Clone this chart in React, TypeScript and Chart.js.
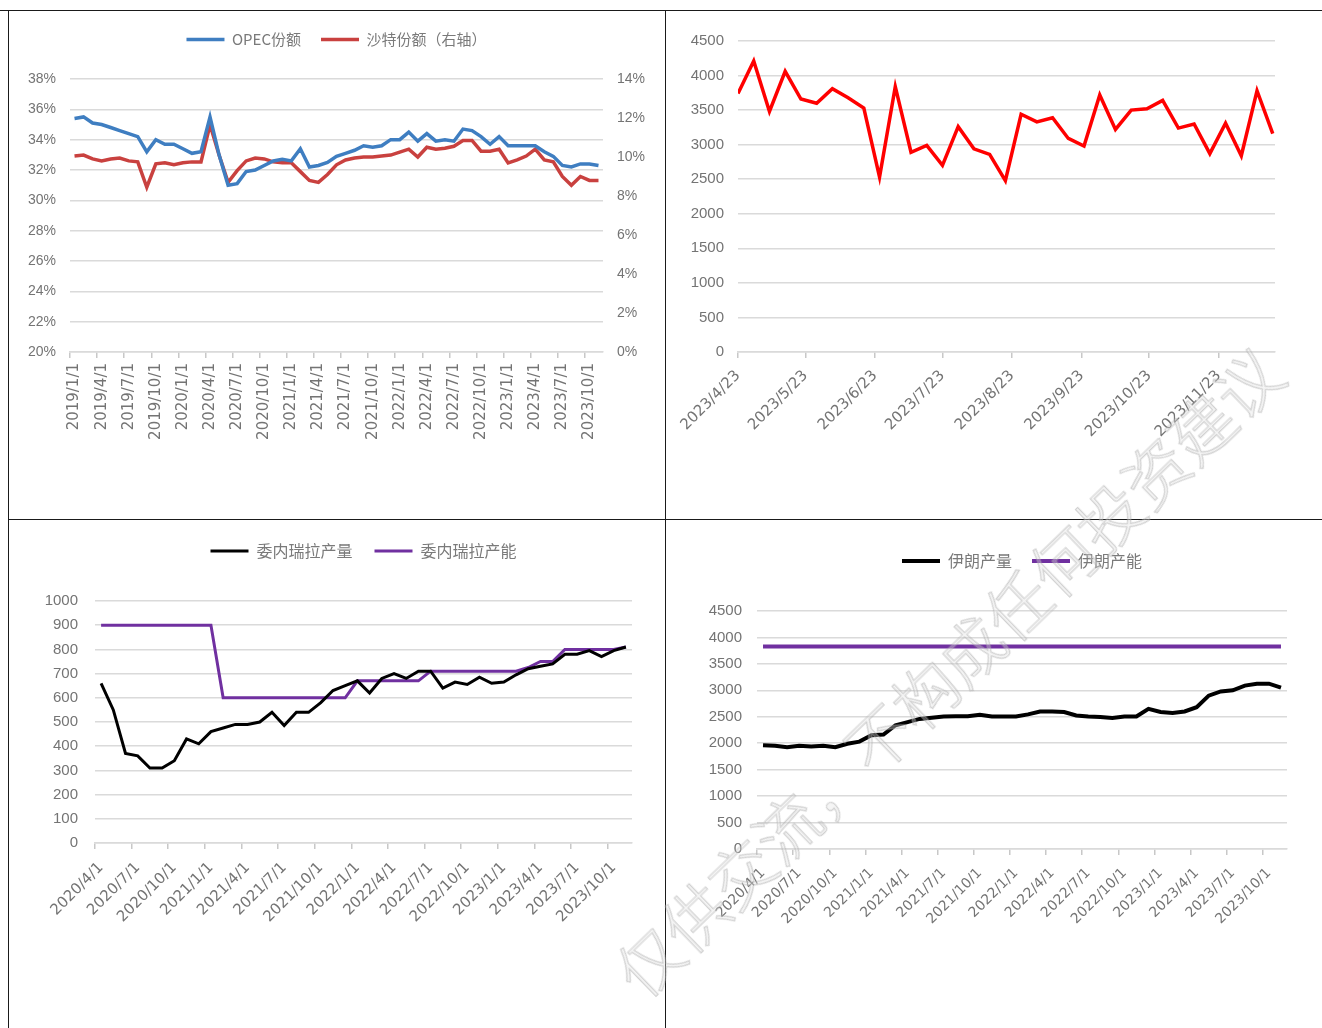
import React, { useEffect, useRef } from 'react';
import { Chart, registerables } from 'chart.js';

Chart.register(...registerables);

// ---------------- Panel 1: OPEC share vs Saudi share ----------------
const shareMonths = [
  '2019/1/1', '2019/2/1', '2019/3/1', '2019/4/1', '2019/5/1', '2019/6/1', '2019/7/1', '2019/8/1', '2019/9/1', '2019/10/1', '2019/11/1', '2019/12/1',
  '2020/1/1', '2020/2/1', '2020/3/1', '2020/4/1', '2020/5/1', '2020/6/1', '2020/7/1', '2020/8/1', '2020/9/1', '2020/10/1', '2020/11/1', '2020/12/1',
  '2021/1/1', '2021/2/1', '2021/3/1', '2021/4/1', '2021/5/1', '2021/6/1', '2021/7/1', '2021/8/1', '2021/9/1', '2021/10/1', '2021/11/1', '2021/12/1',
  '2022/1/1', '2022/2/1', '2022/3/1', '2022/4/1', '2022/5/1', '2022/6/1', '2022/7/1', '2022/8/1', '2022/9/1', '2022/10/1', '2022/11/1', '2022/12/1',
  '2023/1/1', '2023/2/1', '2023/3/1', '2023/4/1', '2023/5/1', '2023/6/1', '2023/7/1', '2023/8/1', '2023/9/1', '2023/10/1', '2023/11/1',
];
const opecShare = [
  35.4, 35.5, 35.1, 35.0, 34.8, 34.6, 34.4, 34.2, 33.2, 34.0, 33.7, 33.7,
  33.4, 33.1, 33.2, 35.5, 33.0, 31.0, 31.1, 31.9, 32.0, 32.3, 32.6, 32.7,
  32.6, 33.4, 32.2, 32.3, 32.5, 32.9, 33.1, 33.3, 33.6, 33.5, 33.6, 34.0,
  34.0, 34.5, 33.9, 34.4, 33.9, 34.0, 33.9, 34.7, 34.6, 34.2, 33.7, 34.2,
  33.6, 33.6, 33.6, 33.6, 33.2, 32.9, 32.3, 32.2, 32.4, 32.4, 32.3,
];
const saudiShare = [
  10.05, 10.1, 9.9, 9.8, 9.9, 9.95, 9.8, 9.75, 8.45, 9.65, 9.7, 9.6,
  9.7, 9.75, 9.75, 11.65, 10.1, 8.7, 9.3, 9.8, 9.95, 9.9, 9.75, 9.7,
  9.7, 9.25, 8.8, 8.7, 9.1, 9.6, 9.85, 9.95, 10.0, 10.0, 10.05, 10.1,
  10.25, 10.4, 10.0, 10.5, 10.4, 10.45, 10.55, 10.85, 10.85, 10.3, 10.3, 10.4,
  9.7, 9.85, 10.05, 10.4, 9.85, 9.75, 9.0, 8.55, 9.0, 8.8, 8.8,
];
const leftPctTicks = { min: 20, max: 38, step: 2 };
const rightPctTicks = { min: 0, max: 14, step: 2 };

// ---------------- Panel 2: weekly series ----------------
const weeklyDates = [
  '2023/4/23', '2023/4/30', '2023/5/7', '2023/5/14', '2023/5/21', '2023/5/28', '2023/6/4', '2023/6/11', '2023/6/18',
  '2023/6/25', '2023/7/2', '2023/7/9', '2023/7/16', '2023/7/23', '2023/7/30', '2023/8/6', '2023/8/13', '2023/8/20',
  '2023/8/27', '2023/9/3', '2023/9/10', '2023/9/17', '2023/9/24', '2023/10/1', '2023/10/8', '2023/10/15', '2023/10/22',
  '2023/10/29', '2023/11/5', '2023/11/12', '2023/11/19', '2023/11/26', '2023/12/3', '2023/12/10', '2023/12/17',
];
const weeklyValues = [
  3740, 4210, 3480, 4060, 3660, 3600, 3810, 3680, 3530,
  2530, 3840, 2890, 2990, 2700, 3260, 2940, 2860, 2480,
  3440, 3330, 3390, 3090, 2980, 3720, 3220, 3500, 3520,
  3640, 3240, 3300, 2870, 3310, 2840, 3780, 3160,
];
const weeklyTickLabels = ['2023/4/23', '2023/5/23', '2023/6/23', '2023/7/23', '2023/8/23', '2023/9/23', '2023/10/23', '2023/11/23'];
const weeklyAxisEnd = '2023/12/18';

// ---------------- Panels 3 & 4: production vs capacity ----------------
const productionMonths = [
  '2020/4/1', '2020/5/1', '2020/6/1', '2020/7/1', '2020/8/1', '2020/9/1', '2020/10/1', '2020/11/1', '2020/12/1',
  '2021/1/1', '2021/2/1', '2021/3/1', '2021/4/1', '2021/5/1', '2021/6/1', '2021/7/1', '2021/8/1', '2021/9/1', '2021/10/1', '2021/11/1', '2021/12/1',
  '2022/1/1', '2022/2/1', '2022/3/1', '2022/4/1', '2022/5/1', '2022/6/1', '2022/7/1', '2022/8/1', '2022/9/1', '2022/10/1', '2022/11/1', '2022/12/1',
  '2023/1/1', '2023/2/1', '2023/3/1', '2023/4/1', '2023/5/1', '2023/6/1', '2023/7/1', '2023/8/1', '2023/9/1', '2023/10/1', '2023/11/1',
];
const venezuelaOutput = [
  660, 550, 370, 360, 310, 310, 340, 430, 410,
  460, 475, 490, 490, 500, 540, 485, 540, 540, 580, 630, 650,
  670, 620, 680, 700, 680, 710, 710, 640, 665, 655, 685, 660,
  665, 695, 720, 730, 740, 780, 780, 795, 770, 795, 810,
];
const venezuelaCapacity = [
  900, 900, 900, 900, 900, 900, 900, 900, 900,
  900, 600, 600, 600, 600, 600, 600, 600, 600, 600, 600, 600,
  670, 670, 670, 670, 670, 670, 710, 710, 710, 710, 710, 710,
  710, 710, 725, 750, 750, 800, 800, 800, 800, 800, 810,
];
const iranOutput = [
  1960, 1950, 1925, 1950, 1940, 1950, 1925, 1990, 2030,
  2150, 2165, 2340, 2400, 2460, 2480, 2505, 2510, 2510, 2540, 2505, 2505,
  2505, 2545, 2600, 2600, 2590, 2525, 2505, 2495, 2475, 2505, 2505, 2650,
  2590, 2570, 2600, 2680, 2900, 2980, 3000, 3090, 3125, 3125, 3050,
];
const iranCapacity = [
  3830, 3830, 3830, 3830, 3830, 3830, 3830, 3830, 3830,
  3830, 3830, 3830, 3830, 3830, 3830, 3830, 3830, 3830, 3830, 3830, 3830,
  3830, 3830, 3830, 3830, 3830, 3830, 3830, 3830, 3830, 3830, 3830, 3830,
  3830, 3830, 3830, 3830, 3830, 3830, 3830, 3830, 3830, 3830, 3830,
];

const watermarkText = '仅供交流，不构成任何投资建议';

// ---------------- helpers ----------------
const GRID = '#dadada';
const TICK_TEXT = '#747474';
const LEGEND_TEXT = '#7a7a7a';
const numFont = (size: number) => ({ family: "'Liberation Sans', Arial, sans-serif", size });
const dateFont = (size: number) => ({ family: "'DejaVu Sans', sans-serif", size });
const cjkFont = (size: number) => ({ family: "'Noto Sans CJK SC', sans-serif", size });

const fixedWidth = (w: number) => (scale: any) => { scale.width = w; };
const fixedHeight = (h: number) => (scale: any) => { scale.height = h; };

const dayOf = (s: string) => {
  const [y, m, d] = s.split('/').map(Number);
  return Date.UTC(y, m - 1, d) / 86400000;
};
const weeklyOrigin = dayOf(weeklyDates[0]);

const legendGap = (extra: number) => ({
  id: 'legendGap',
  beforeLayout(chart: any) {
    const lg = chart.legend;
    if (lg && !lg._gapPatched) {
      const fit = lg.fit;
      lg.fit = function () {
        fit.call(this);
        this.height += extra;
      };
      lg._gapPatched = true;
    }
  },
});

const lineLegend = (size: number, pad: number) => ({
  position: 'top' as const,
  fullSize: false,
  labels: {
    usePointStyle: true,
    pointStyle: 'line',
    pointStyleWidth: 38,
    font: cjkFont(size),
    color: LEGEND_TEXT,
    padding: pad,
  },
});

const every3Grid = (ctx: any) => (ctx.index % 3 === 0 ? '#c8c8c8' : 'rgba(0,0,0,0)');

const lineDs = (label: string, data: any[], color: string, width: number, axis = 'y') => ({
  label,
  data,
  yAxisID: axis,
  borderColor: color,
  backgroundColor: color,
  borderWidth: width,
  pointRadius: 0,
  pointHoverRadius: 0,
  tension: 0,
  fill: false,
});

const valueAxis = (min: number, max: number, step: number, width: number, pad: number, fmt: (v: number) => string, size = 15) => ({
  position: 'left' as const,
  min,
  max,
  ticks: { stepSize: step, padding: pad, color: TICK_TEXT, font: numFont(size), callback: (v: any) => fmt(v) },
  grid: { color: GRID, lineWidth: 1.5, drawTicks: false },
  border: { display: false },
  afterFit: fixedWidth(width),
});

const categoryAxis = (labels: string[], rotation: number, height: number, fontSize: number, pad: number) => ({
  type: 'category' as const,
  offset: true,
  grid: { offset: true, drawOnChartArea: false, drawTicks: true, tickLength: 6, lineWidth: 1.5, color: every3Grid },
  border: { display: true, color: GRID, width: 1.5 },
  ticks: {
    autoSkip: false,
    minRotation: rotation,
    maxRotation: rotation,
    padding: pad,
    color: TICK_TEXT,
    font: dateFont(fontSize),
    callback: (_v: any, i: number) => (i % 3 === 0 ? labels[i] : ''),
  },
  afterFit: fixedHeight(height),
});

// ---------------- configs ----------------
const shareConfig = () => ({
  type: 'line' as const,
  data: {
    labels: shareMonths,
    datasets: [
      lineDs('OPEC份额', opecShare, '#3f7ec1', 3.5, 'y'),
      lineDs('沙特份额（右轴）', saudiShare, '#c9413f', 3.5, 'y1'),
    ],
  },
  options: {
    responsive: false,
    animation: false as const,
    layout: { padding: { top: 1, left: 0, right: 0, bottom: 0 } },
    plugins: { legend: lineLegend(15, 20), tooltip: { enabled: false } },
    scales: {
      x: categoryAxis(shareMonths, 90, 167, 15, 5),
      y: valueAxis(leftPctTicks.min, leftPctTicks.max, leftPctTicks.step, 61, 14, (v) => v + '%', 14),
      y1: {
        position: 'right' as const,
        min: rightPctTicks.min,
        max: rightPctTicks.max,
        ticks: { stepSize: rightPctTicks.step, padding: 14, color: TICK_TEXT, font: numFont(14), callback: (v: any) => v + '%' },
        grid: { drawOnChartArea: false, drawTicks: false },
        border: { display: false },
        afterFit: fixedWidth(62),
      },
    },
  },
  plugins: [legendGap(22)],
});

const weeklyConfig = () => {
  const tickDays = weeklyTickLabels.map((d) => dayOf(d) - weeklyOrigin);
  return {
    type: 'line' as const,
    data: {
      datasets: [
        lineDs('weekly', weeklyDates.map((d, i) => ({ x: dayOf(d) - weeklyOrigin, y: weeklyValues[i] })), '#ff0000', 3.5),
      ],
    },
    options: {
      responsive: false,
      animation: false as const,
      layout: { padding: { top: 30, left: 0, right: 47, bottom: 0 } },
      plugins: { legend: { display: false }, tooltip: { enabled: false } },
      scales: {
        x: {
          type: 'linear' as const,
          min: 0,
          max: dayOf(weeklyAxisEnd) - weeklyOrigin,
          afterBuildTicks: (s: any) => { s.ticks = tickDays.map((v) => ({ value: v })); },
          grid: { drawOnChartArea: false, drawTicks: true, tickLength: 6, lineWidth: 1.5, color: '#c8c8c8' },
          border: { display: true, color: GRID, width: 1.5 },
          ticks: {
            autoSkip: false,
            minRotation: 45,
            maxRotation: 45,
            padding: 9,
            color: TICK_TEXT,
            font: dateFont(15),
            callback: (_v: any, i: number) => weeklyTickLabels[i],
          },
          afterFit: fixedHeight(167),
        },
        y: valueAxis(0, 4500, 500, 72, 14, (v) => String(v)),
      },
    },
  };
};

const venezuelaConfig = () => ({
  type: 'line' as const,
  data: {
    labels: productionMonths,
    datasets: [
      lineDs('委内瑞拉产量', venezuelaOutput, '#000000', 3),
      lineDs('委内瑞拉产能', venezuelaCapacity, '#7030a0', 3),
    ],
  },
  options: {
    responsive: false,
    animation: false as const,
    layout: { padding: { top: 1, left: 0, right: 33, bottom: 0 } },
    plugins: { legend: lineLegend(16, 22), tooltip: { enabled: false } },
    scales: {
      x: categoryAxis(productionMonths, 45, 185, 15, 10),
      y: valueAxis(0, 1000, 100, 86, 17, (v) => String(v)),
    },
  },
  plugins: [legendGap(32)],
});

const iranConfig = () => ({
  type: 'line' as const,
  data: {
    labels: productionMonths,
    datasets: [
      lineDs('伊朗产量', iranOutput, '#000000', 4),
      lineDs('伊朗产能', iranCapacity, '#7030a0', 4),
    ],
  },
  options: {
    responsive: false,
    animation: false as const,
    layout: { padding: { top: 13, left: 0, right: 35, bottom: 0 } },
    plugins: { legend: lineLegend(16, 20), tooltip: { enabled: false } },
    scales: {
      x: categoryAxis(productionMonths, 45, 179, 14, 10),
      y: valueAxis(0, 4500, 500, 91, 15, (v) => String(v)),
    },
  },
  plugins: [legendGap(32)],
});

// ---------------- components ----------------
function ChartBox({ make, left, top }: { make: () => any; left: number; top: number }) {
  const ref = useRef<HTMLCanvasElement | null>(null);
  useEffect(() => {
    if (!ref.current) return;
    const chart = new Chart(ref.current, make());
    return () => chart.destroy();
  }, [make]);
  return (
    <canvas
      ref={ref}
      width={656}
      height={508}
      style={{ position: 'absolute', left, top, width: 656, height: 508, display: 'block' }}
    />
  );
}

const lineStyle = (left: number, top: number, width: number, height: number): React.CSSProperties => ({
  position: 'absolute',
  left,
  top,
  width,
  height,
  background: '#1a1a1a',
});

export default function App() {
  return (
    <div style={{ position: 'absolute', left: 0, top: 0, width: 1322, height: 1028, overflow: 'hidden', background: '#fff' }}>
      <ChartBox make={shareConfig} left={9} top={11} />
      <ChartBox make={weeklyConfig} left={666} top={11} />
      <ChartBox make={venezuelaConfig} left={9} top={520} />
      <ChartBox make={iranConfig} left={666} top={520} />
      <div style={lineStyle(0, 10, 1322, 1)} />
      <div style={lineStyle(8, 10, 1, 1018)} />
      <div style={lineStyle(665, 10, 1, 1018)} />
      <div style={lineStyle(8, 519, 1314, 1)} />
      <div
        style={{
          position: 'absolute',
          left: 946,
          top: 670,
          transform: 'translate(-50%, -50%) rotate(-44deg)',
          whiteSpace: 'nowrap',
          fontFamily: "'Noto Sans CJK SC', sans-serif",
          fontWeight: 300,
          fontSize: 64,
          color: 'rgba(225,225,225,0.35)',
          WebkitTextStroke: '1.2px rgba(170,170,170,0.5)',
          pointerEvents: 'none',
        }}
      >
        {watermarkText}
      </div>
    </div>
  );
}
